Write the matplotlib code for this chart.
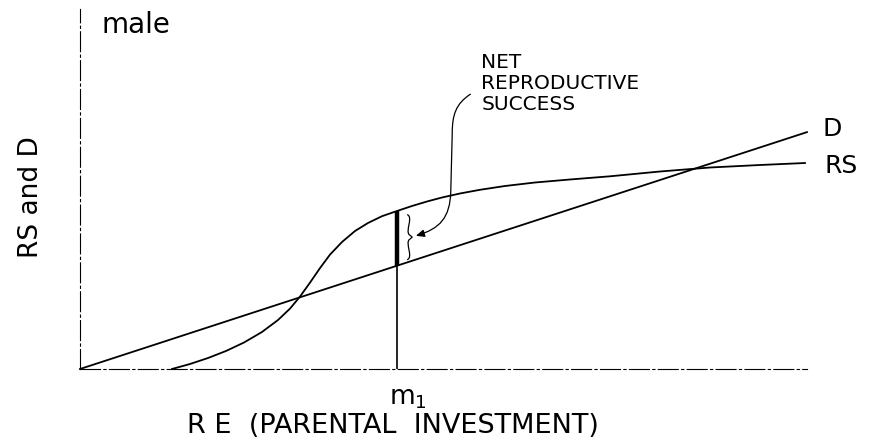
import numpy as np
import matplotlib
matplotlib.use("Agg")
import matplotlib.pyplot as plt
from matplotlib.path import Path
from matplotlib.patches import FancyArrowPatch, PathPatch

# cost line D (straight) and reproductive success RS (sigmoid), arbitrary units
d_x = [0.0, 10.0]
d_y = [0.0, 9.87]

rs_x = [1.265, 1.513, 1.761, 2.008, 2.256, 2.503, 2.724, 2.889, 3.026, 3.164,
        3.301, 3.439, 3.604, 3.783, 3.961, 4.154, 4.360, 4.567, 4.773, 4.979,
        5.227, 5.502, 5.846, 6.259, 6.740, 7.290, 7.978, 8.666, 9.354, 9.972]
rs_y = [0.000, 0.208, 0.458, 0.750, 1.104, 1.542, 2.042, 2.517, 3.017, 3.600,
        4.204, 4.767, 5.292, 5.750, 6.083, 6.367, 6.583, 6.792, 6.979, 7.146,
        7.313, 7.467, 7.625, 7.771, 7.896, 8.029, 8.229, 8.396, 8.500, 8.583]

m1 = 4.36  # investment with maximal net reproductive success

W, H = 873, 439
fig = plt.figure(figsize=(W / 100, H / 100), dpi=100)
ax = fig.add_axes([80 / W, (H - 370) / H, (807 - 80) / W, (370 - 10) / H])
ax.set_xlim(0, 10)
ax.set_ylim(0, 15)
ax.set_xticks([])
ax.set_yticks([])
for s in ["top", "right"]:
    ax.spines[s].set_visible(False)
for s in ["left", "bottom"]:
    ax.spines[s].set_linewidth(0.8)
    ax.spines[s].set_linestyle((0, (18, 3, 2, 3)))

lw = 1.3
ax.plot(d_x, d_y, color="black", lw=lw, clip_on=False)
ax.plot(rs_x, rs_y, color="black", lw=lw, clip_on=False, solid_joinstyle="round")

# vertical at m1: thin down to the axis, thick between D and RS
d_at_m1 = np.interp(m1, d_x, d_y)
rs_at_m1 = np.interp(m1, rs_x, rs_y)
ax.plot([m1, m1], [0, d_at_m1], color="black", lw=1.2)
ax.plot([m1, m1], [d_at_m1, rs_at_m1], color="black", lw=3.2, solid_capstyle="butt")

# little brace next to the thick segment
bx = m1 + 0.17
y0, y1 = d_at_m1 + 0.25, rs_at_m1 - 0.15
ym = (y0 + y1) / 2
brace = Path([(bx - 0.03, y1), (bx + 0.06, y1 - 0.1), (bx - 0.06, ym + 0.25), (bx, ym + 0.1),
              (bx + 0.04, ym), (bx + 0.04, ym), (bx, ym - 0.1),
              (bx - 0.06, ym - 0.25), (bx + 0.06, y0 + 0.1), (bx - 0.03, y0)],
             [Path.MOVETO, Path.CURVE4, Path.CURVE4, Path.CURVE4,
              Path.LINETO, Path.LINETO, Path.LINETO,
              Path.CURVE4, Path.CURVE4, Path.CURVE4])
ax.add_patch(PathPatch(brace, fill=False, lw=0.9, color="black"))

# curved arrow from the label to the brace
arrow_path = Path([(5.37, 11.45), (5.17, 11.05), (5.12, 10.6), (5.12, 9.8),
                   (5.10, 7.4),
                   (5.09, 6.3), (4.95, 5.85), (4.62, 5.55)],
                  [Path.MOVETO, Path.CURVE4, Path.CURVE4, Path.CURVE4,
                   Path.LINETO,
                   Path.CURVE4, Path.CURVE4, Path.CURVE4])
ax.add_patch(FancyArrowPatch(path=arrow_path, arrowstyle="-|>,head_length=5,head_width=2.2",
                             color="black", lw=0.9, transform=ax.transData, clip_on=False))

ax.text(5.52, 10.83, "NET\nREPRODUCTIVE\nSUCCESS", fontsize=14.5, ha="left", va="baseline",
        linespacing=1.15)
ax.text(0.30, 14.05, "male", fontsize=20, ha="left", va="baseline", clip_on=False)
ax.text(10.22, 10.05, "D", fontsize=18, ha="left", va="center", clip_on=False)
ax.text(10.24, 8.5, "RS", fontsize=18, ha="left", va="center", clip_on=False)

ax.text(4.25, -1.45, r"$\mathregular{m_1}$", fontsize=19, ha="left", va="baseline")
ax.text(4.3, -2.62, "R E  (PARENTAL  INVESTMENT)", fontsize=19.5, ha="center", va="baseline")
fig.text(31 / W, 1 - 197 / H, "RS and D", fontsize=19, rotation=90, ha="center", va="center")

plt.savefig("out.png", dpi=100)
